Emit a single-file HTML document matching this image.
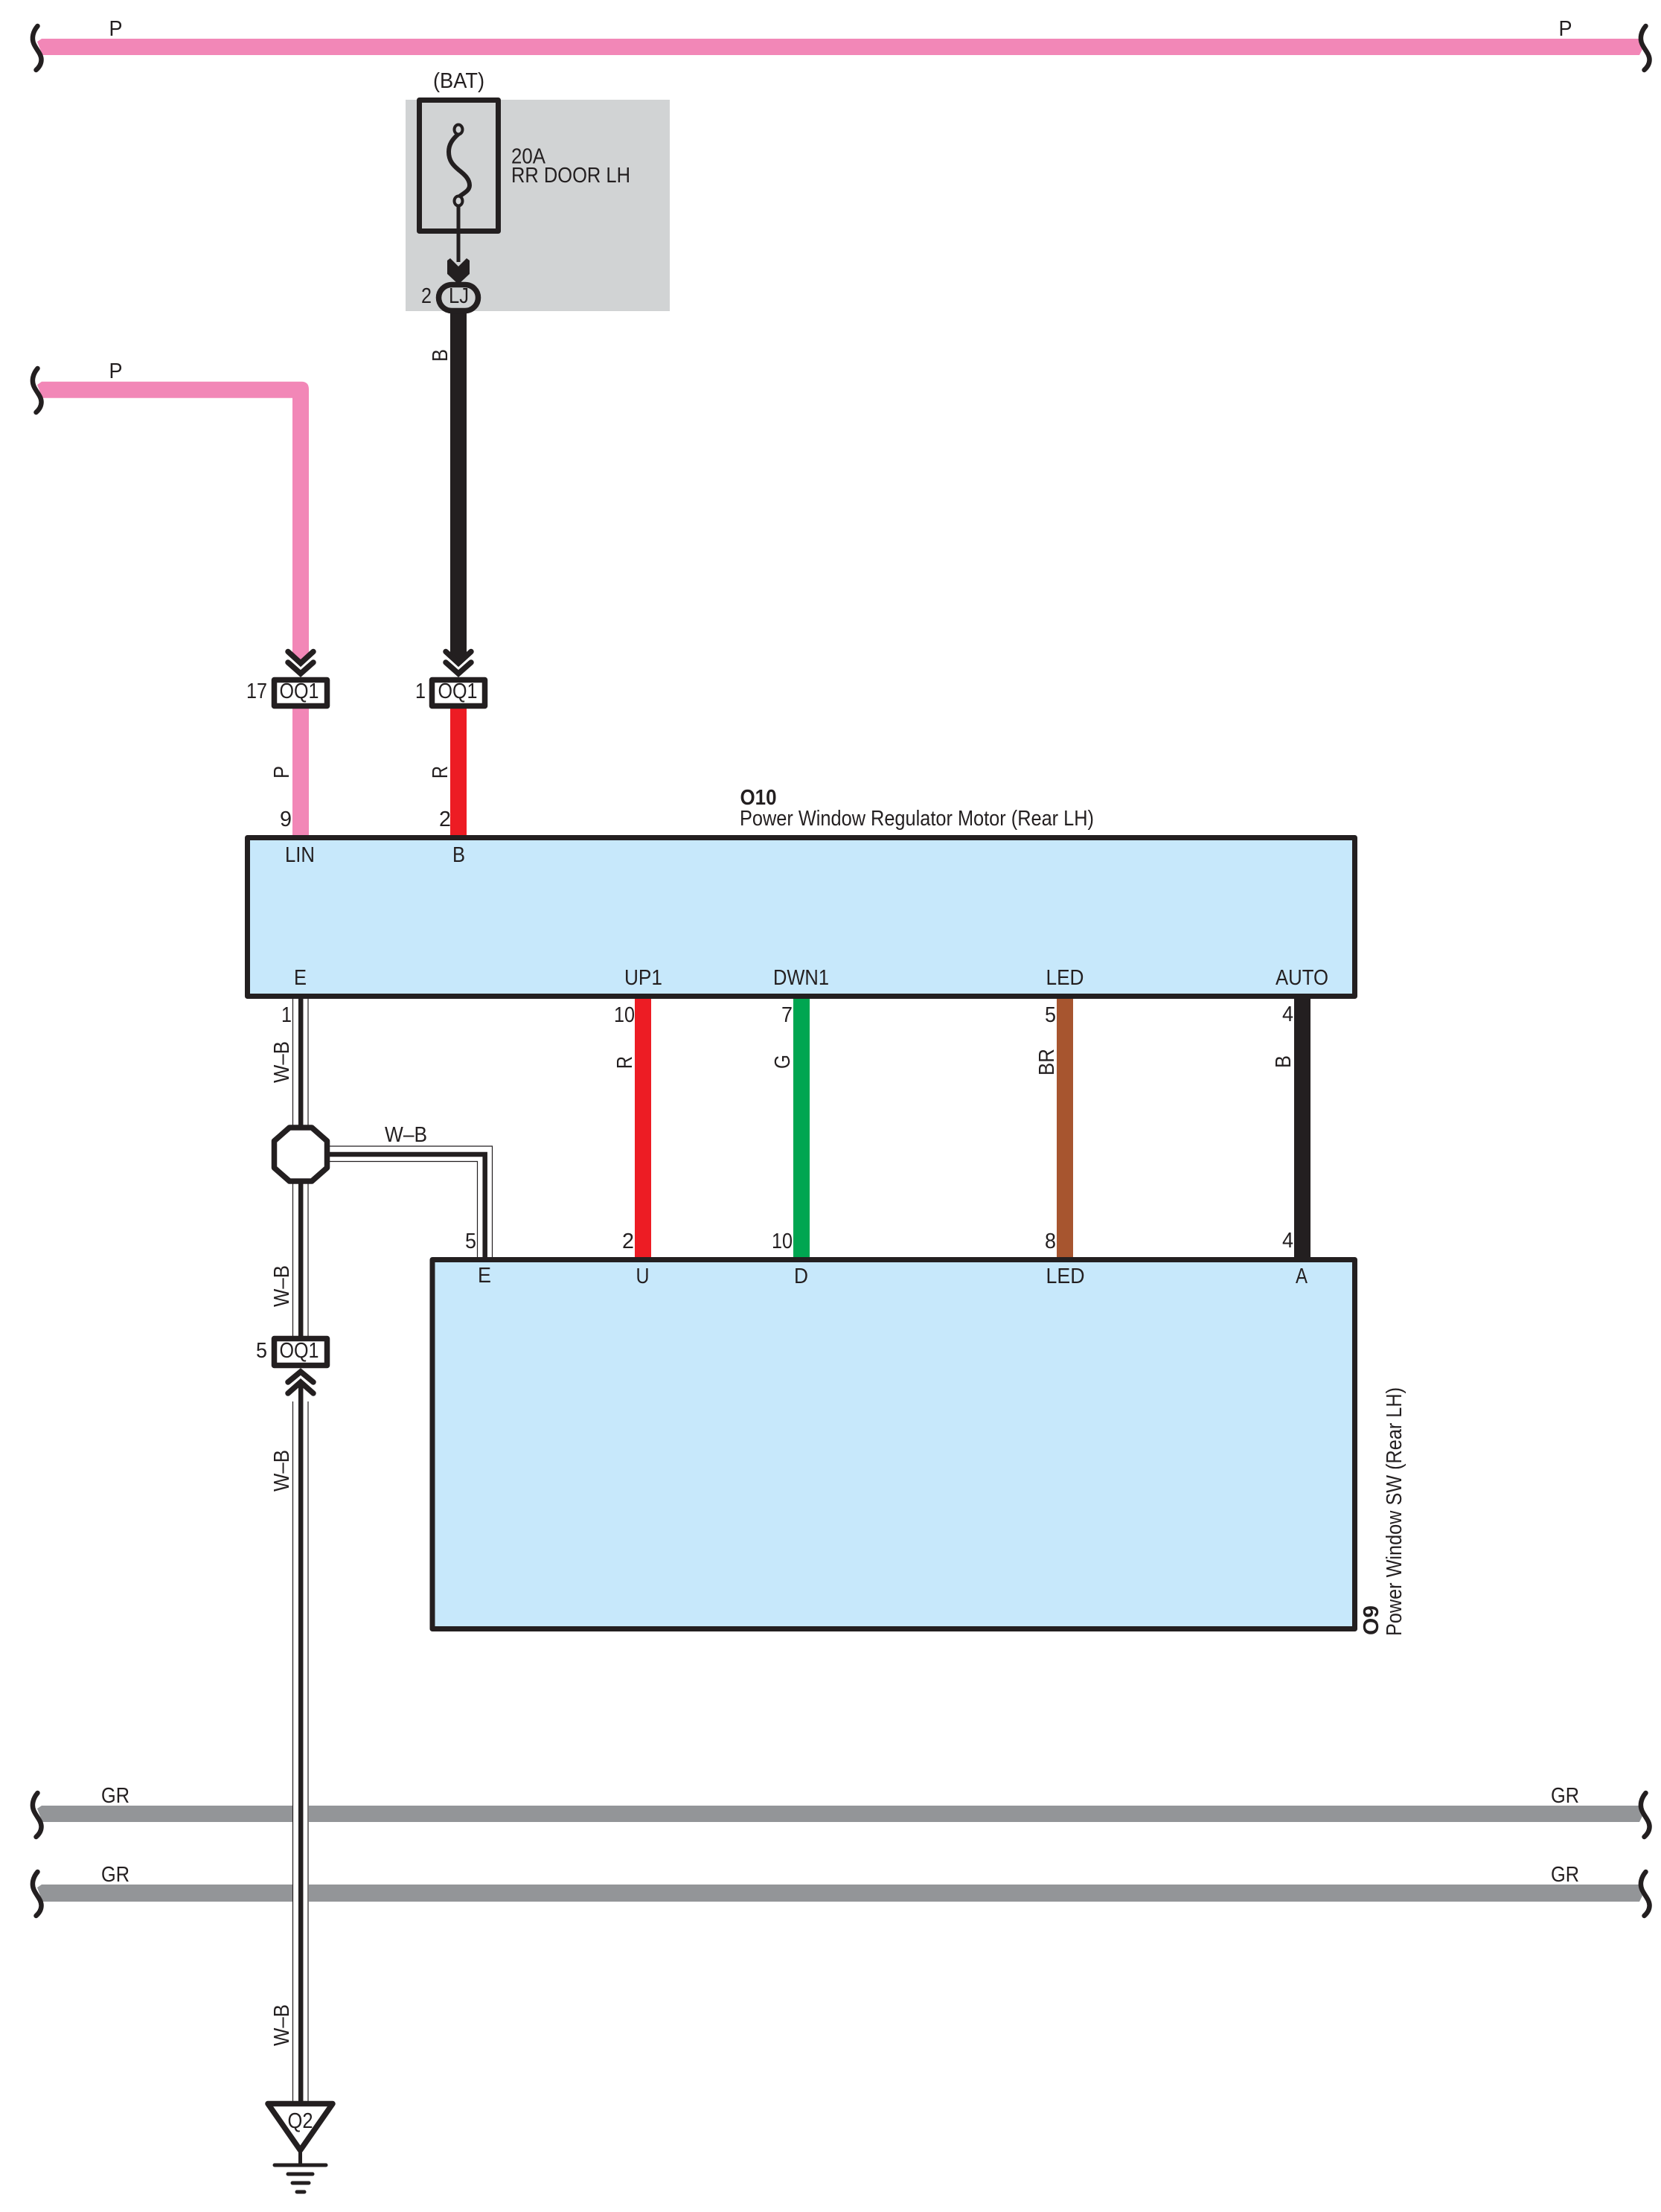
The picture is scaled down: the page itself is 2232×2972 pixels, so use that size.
<!DOCTYPE html>
<html><head><meta charset="utf-8"><title>Power Window Wiring Diagram</title>
<style>
html,body{margin:0;padding:0;background:#fff}
svg{display:block}
text{font-family:"Liberation Sans",sans-serif;font-size:28.5px;fill:#231f20}
.b{font-weight:bold}
</style></head><body>
<svg xmlns="http://www.w3.org/2000/svg" width="2232" height="2972" viewBox="0 0 2232 2972">
<rect width="2232" height="2972" fill="#fff"/>
<defs>
<path id="cur" d="M50.5 6C44.5 13 42 22 45.5 30C49 38 56 44 55.5 52C55.3 57 53 61 48.5 65" fill="none" stroke="#231f20" stroke-width="6.5" stroke-linecap="round"/>
</defs>
<!-- gray fuse area -->
<rect x="545" y="134" width="355" height="284" fill="#d1d3d4"/>
<!-- horizontal bus wires -->
<path d="M50 56L56 52H2202L2207 66L2203 74H57Z" fill="#f287b7"/>
<path d="M50 517L56 512.7H405Q415 512.7 415 523V883L404 891L393 883V534.7H57Z" fill="#f287b7"/>
<path d="M50 2430L56 2426H393V2448H57Z" fill="#939598"/>
<path d="M415 2426H2202L2207 2440L2203 2448H415Z" fill="#939598"/>
<path d="M50 2536L56 2532H393V2555H57Z" fill="#939598"/>
<path d="M415 2532H2202L2207 2547L2203 2555H415Z" fill="#939598"/>
<!-- curly breaks -->
<use href="#cur" x="0" y="29"/><use href="#cur" x="2161" y="29"/>
<use href="#cur" x="0" y="489"/>
<use href="#cur" x="0" y="2403"/><use href="#cur" x="2161" y="2403"/>
<use href="#cur" x="0" y="2509"/><use href="#cur" x="2161" y="2509"/>
<!-- vertical coloured wires -->
<path d="M605 418H627V883L616 891L605 883Z" fill="#231f20"/>
<rect x="393" y="950" width="22" height="174" fill="#f287b7"/>
<rect x="605" y="950" width="22" height="174" fill="#ed1c24"/>
<rect x="853" y="1340" width="22" height="351" fill="#ed1c24"/>
<rect x="1066" y="1340" width="22" height="351" fill="#00a651"/>
<rect x="1420" y="1340" width="22" height="351" fill="#a7552f"/>
<rect x="1739" y="1340" width="22" height="351" fill="#231f20"/>
<!-- W-B shielded wires -->
<g fill="none" stroke="#231f20">
<g stroke-width="1.2">
<path d="M393.5 1342V1512M414 1342V1512M393.5 1590V1795M414 1590V1795M393.5 1883V2823M414 1883V2823"/>
<path d="M443 1540H661.5V1689M443 1560.5H641.5V1689"/>
</g>
<g stroke-width="6.5">
<path d="M404.2 1342V1512M404.2 1590V1795M404.2 1862V2823"/>
<path d="M443 1551H651.7V1689"/>
</g>
</g>
<!-- component boxes -->
<rect x="332.5" y="1125.5" width="1488" height="213" fill="#c7e8fb" stroke="#231f20" stroke-width="7" stroke-linejoin="round"/>
<rect x="581" y="1692.5" width="1239.5" height="496" fill="#c7e8fb" stroke="#231f20" stroke-width="7" stroke-linejoin="round"/>
<!-- fuse -->
<rect x="563.5" y="134.5" width="106" height="176" fill="none" stroke="#231f20" stroke-width="7" stroke-linejoin="round"/>
<path d="M616 180C608 187 603 194 603 204C603 216 609 222 616 228C625 235 631 241 631 249C631 256 624 259 616 265" fill="none" stroke="#231f20" stroke-width="6"/>
<ellipse cx="616" cy="174" rx="5.5" ry="6.5" fill="#d1d3d4" stroke="#231f20" stroke-width="4"/>
<ellipse cx="616" cy="270" rx="5.5" ry="6.5" fill="#d1d3d4" stroke="#231f20" stroke-width="4"/>
<path d="M616 277V352" stroke="#231f20" stroke-width="5" fill="none"/>
<path d="M601 350L605 347L616 358L627 347L631 350V368L616 382L601 368Z" fill="#231f20"/>
<!-- LJ oval -->
<rect x="589.5" y="382.5" width="53" height="35" rx="17.5" ry="17.5" fill="#d1d3d4" stroke="#231f20" stroke-width="7.5"/>
<!-- chevrons -->
<g fill="none" stroke="#231f20" stroke-width="7.5" stroke-linecap="round" stroke-linejoin="miter">
<path d="M387 875.5L404 891L421 875.5M387 890L404 905L421 890"/>
<path d="M599 875.5L616 891L633 875.5M599 890L616 905L633 890"/>
<path d="M387 1857L404 1843L421 1857M387 1872L404 1857L421 1872"/>
</g>
<!-- connectors -->
<g fill="#fff" stroke="#231f20" stroke-width="7.5" stroke-linejoin="round">
<rect x="368.5" y="913.5" width="71" height="35"/>
<rect x="580.5" y="913.5" width="71" height="35"/>
<rect x="368.5" y="1798.5" width="71" height="36"/>
<polygon points="389,1515 419,1515 439.5,1533 439.5,1569 419,1587 389,1587 368.5,1569 368.5,1533"/>
<polygon points="360,2826.5 447,2826.5 403.5,2889"/>
</g>
<!-- ground -->
<g stroke="#231f20" fill="none" stroke-linecap="round">
<path d="M403.5 2889V2909" stroke-width="5"/>
<path d="M369 2909H438" stroke-width="5"/>
<path d="M387 2921H420" stroke-width="5"/>
<path d="M393 2933H415" stroke-width="5"/>
<path d="M399 2945H409" stroke-width="5"/>
</g>
<!-- horizontal labels -->
<text x="146.5" y="48" textLength="18" lengthAdjust="spacingAndGlyphs">P</text>
<text x="2094.5" y="48" textLength="18" lengthAdjust="spacingAndGlyphs">P</text>
<text x="146.5" y="508" textLength="18" lengthAdjust="spacingAndGlyphs">P</text>
<text x="136" y="2422" textLength="38" lengthAdjust="spacingAndGlyphs">GR</text>
<text x="136" y="2528" textLength="38" lengthAdjust="spacingAndGlyphs">GR</text>
<text x="2084" y="2422" textLength="38" lengthAdjust="spacingAndGlyphs">GR</text>
<text x="2084" y="2528" textLength="38" lengthAdjust="spacingAndGlyphs">GR</text>
<text x="582" y="118" textLength="69" lengthAdjust="spacingAndGlyphs">(BAT)</text>
<text x="687" y="219.5" textLength="46" lengthAdjust="spacingAndGlyphs">20A</text>
<text x="687" y="245" textLength="160" lengthAdjust="spacingAndGlyphs">RR DOOR LH</text>
<text x="566" y="407" textLength="14" lengthAdjust="spacingAndGlyphs">2</text>
<text x="603" y="407" textLength="27" lengthAdjust="spacingAndGlyphs">LJ</text>
<text x="331" y="938" textLength="28" lengthAdjust="spacingAndGlyphs">17</text>
<text x="558" y="938" textLength="14" lengthAdjust="spacingAndGlyphs">1</text>
<text x="375.5" y="938" textLength="53" lengthAdjust="spacingAndGlyphs">OQ1</text>
<text x="588.5" y="938" textLength="53" lengthAdjust="spacingAndGlyphs">OQ1</text>
<text x="376" y="1110" textLength="16" lengthAdjust="spacingAndGlyphs">9</text>
<text x="590" y="1110" textLength="16" lengthAdjust="spacingAndGlyphs">2</text>
<text class="b" x="994.5" y="1081" textLength="49" lengthAdjust="spacingAndGlyphs">O10</text>
<text x="994" y="1109" textLength="476" lengthAdjust="spacingAndGlyphs">Power Window Regulator Motor (Rear LH)</text>
<text x="383" y="1158" textLength="40" lengthAdjust="spacingAndGlyphs">LIN</text>
<text x="608" y="1158" textLength="17" lengthAdjust="spacingAndGlyphs">B</text>
<text x="395" y="1323" textLength="17" lengthAdjust="spacingAndGlyphs">E</text>
<text x="839" y="1323" textLength="51" lengthAdjust="spacingAndGlyphs">UP1</text>
<text x="1039" y="1323" textLength="75" lengthAdjust="spacingAndGlyphs">DWN1</text>
<text x="1405.5" y="1323" textLength="51" lengthAdjust="spacingAndGlyphs">LED</text>
<text x="1714" y="1323" textLength="71" lengthAdjust="spacingAndGlyphs">AUTO</text>
<text x="378" y="1373" textLength="14" lengthAdjust="spacingAndGlyphs">1</text>
<text x="825" y="1373" textLength="28" lengthAdjust="spacingAndGlyphs">10</text>
<text x="1050" y="1373" textLength="15" lengthAdjust="spacingAndGlyphs">7</text>
<text x="1404" y="1373" textLength="15" lengthAdjust="spacingAndGlyphs">5</text>
<text x="1723" y="1372" textLength="15" lengthAdjust="spacingAndGlyphs">4</text>
<text x="517" y="1534" textLength="57" lengthAdjust="spacingAndGlyphs">W–B</text>
<text x="625" y="1677" textLength="15" lengthAdjust="spacingAndGlyphs">5</text>
<text x="836" y="1677" textLength="16" lengthAdjust="spacingAndGlyphs">2</text>
<text x="1037" y="1677" textLength="28" lengthAdjust="spacingAndGlyphs">10</text>
<text x="1404" y="1677" textLength="15" lengthAdjust="spacingAndGlyphs">8</text>
<text x="1723" y="1676" textLength="15" lengthAdjust="spacingAndGlyphs">4</text>
<text x="642" y="1723" textLength="18" lengthAdjust="spacingAndGlyphs">E</text>
<text x="854.5" y="1724" textLength="18" lengthAdjust="spacingAndGlyphs">U</text>
<text x="1067" y="1724" textLength="19" lengthAdjust="spacingAndGlyphs">D</text>
<text x="1405.5" y="1724" textLength="52" lengthAdjust="spacingAndGlyphs">LED</text>
<text x="1741" y="1724" textLength="16" lengthAdjust="spacingAndGlyphs">A</text>
<text x="344" y="1824" textLength="15" lengthAdjust="spacingAndGlyphs">5</text>
<text x="375.5" y="1824" textLength="53" lengthAdjust="spacingAndGlyphs">OQ1</text>
<text x="386.5" y="2859" textLength="34" lengthAdjust="spacingAndGlyphs">Q2</text>
<!-- rotated labels -->
<g>
<text transform="translate(388 1046) rotate(-90)" textLength="17" lengthAdjust="spacingAndGlyphs">P</text>
<text transform="translate(601 1046) rotate(-90)" textLength="17" lengthAdjust="spacingAndGlyphs">R</text>
<text transform="translate(601 486) rotate(-90)" textLength="17" lengthAdjust="spacingAndGlyphs">B</text>
<text transform="translate(388 1455) rotate(-90)" textLength="56" lengthAdjust="spacingAndGlyphs">W–B</text>
<text transform="translate(388 1756) rotate(-90)" textLength="56" lengthAdjust="spacingAndGlyphs">W–B</text>
<text transform="translate(388 2004) rotate(-90)" textLength="56" lengthAdjust="spacingAndGlyphs">W–B</text>
<text transform="translate(388 2749) rotate(-90)" textLength="56" lengthAdjust="spacingAndGlyphs">W–B</text>
<text transform="translate(849 1436) rotate(-90)" textLength="17" lengthAdjust="spacingAndGlyphs">R</text>
<text transform="translate(1061 1436) rotate(-90)" textLength="19" lengthAdjust="spacingAndGlyphs">G</text>
<text transform="translate(1416 1445) rotate(-90)" textLength="36" lengthAdjust="spacingAndGlyphs">BR</text>
<text transform="translate(1734 1435) rotate(-90)" textLength="17" lengthAdjust="spacingAndGlyphs">B</text>
<text class="b" transform="translate(1852 2197) rotate(-90)" textLength="40" lengthAdjust="spacingAndGlyphs">O9</text>
<text transform="translate(1883 2198) rotate(-90)" textLength="334" lengthAdjust="spacingAndGlyphs">Power Window SW (Rear LH)</text>
</g>
</svg>
</body></html>
